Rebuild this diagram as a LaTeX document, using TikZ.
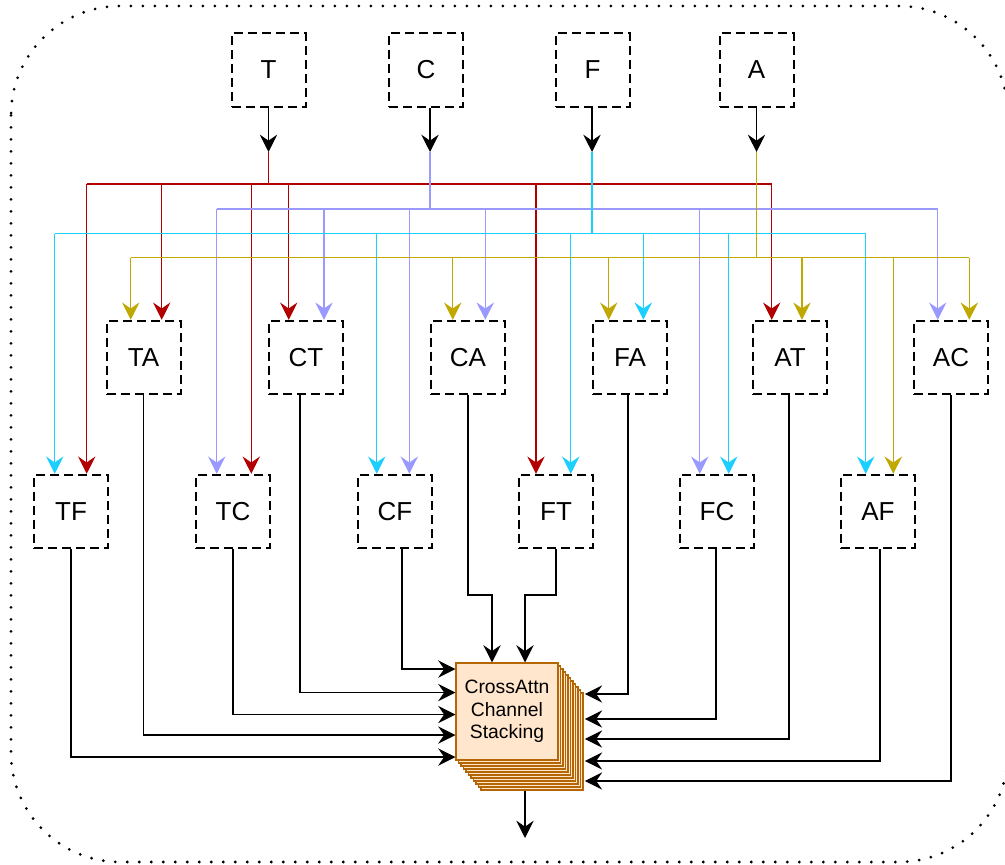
\documentclass[tikz,border=0pt]{standalone}
\usepackage{fontspec}
\setmainfont{Liberation Sans}
\usetikzlibrary{arrows.meta}
\definecolor{cred}{HTML}{B20000}
\definecolor{clav}{HTML}{9999FF}
\definecolor{ccyan}{HTML}{1BCFFF}
\definecolor{colive}{HTML}{C0A800}
\definecolor{sfill}{HTML}{FFE6CC}
\definecolor{sdraw}{HTML}{B46504}
\begin{document}
\begin{tikzpicture}[x=0.75pt,y=-0.75pt,
  dbox/.style={draw=black,line width=1.5pt,dash pattern=on 6.75pt off 3.75pt,minimum width=55.5pt,minimum height=55pt,inner sep=0pt,font=\fontsize{19.5}{22}\selectfont},
  tip/.style={-{Stealth[length=13pt,width=13pt,inset=4.5pt]}},
  wire/.style={line width=1pt},
  blk/.style={wire,black,tip},
  layer/.style={draw=sdraw,fill=sfill,line width=0.8pt,minimum width=76.5pt,minimum height=72.75pt,inner sep=0pt}
]
\useasboundingbox (0,0) rectangle (1005,864);
% outer dotted frame
\draw[line width=2.3pt,dash pattern=on 0pt off 9pt,line cap=round,rounded corners=82pt] (11,6) rectangle (1008,862);

% input nodes
\node[dbox] (T) at (268.5,70) {T};
\node[dbox] (C) at (426,70) {C};
\node[dbox] (F) at (592.5,70) {F};
\node[dbox] (A) at (756.5,70) {A};

% row 1
\node[dbox] (TA) at (143.5,357.5) {TA};
\node[dbox] (CT) at (306,357.5) {CT};
\node[dbox] (CA) at (468,357.5) {CA};
\node[dbox] (FA) at (630,357.5) {FA};
\node[dbox] (AT) at (790,357.5) {AT};
\node[dbox] (AC) at (951,357.5) {AC};
% row 2
\node[dbox] (TF) at (71,511.5) {TF};
\node[dbox] (TC) at (233,511.5) {TC};
\node[dbox] (CF) at (395,511.5) {CF};
\node[dbox] (FT) at (556,511.5) {FT};
\node[dbox] (FC) at (717,511.5) {FC};
\node[dbox] (AF) at (878,511.5) {AF};

% junction coordinates
\coordinate (jT) at (268.5,152);
\coordinate (jC) at (430,152);
\coordinate (jF) at (592,152);
\coordinate (jA) at (756.5,152);

\draw[blk] (T.south) -- (jT);
\draw[blk] (430,0 |- C.south) -- (jC);
\draw[blk] (592,0 |- F.south) -- (jF);
\draw[blk] (A.south) -- (jA);

% red bus (T)
\draw[wire,cred] (jT) -- (268.5,184);
\draw[wire,cred] (86.7,184) -- (771.7,184);
\foreach \x/\n in {86.7/TF,251.3/TC,536/FT,161.7/TA,288.7/CT,771.7/AT}
  \draw[wire,cred,tip] (\x,184) -- (\x,0 |- \n.north);

% lavender bus (C)
\draw[wire,clav] (jC) -- (430,209);
\draw[wire,clav] (216.7,209) -- (937.7,209);
\foreach \x/\n in {216.7/TC,324/CT,409.3/CF,485.3/CA,699.7/FC,937.7/AC}
  \draw[wire,clav,tip] (\x,209) -- (\x,0 |- \n.north);

% cyan bus (F)
\draw[wire,ccyan] (jF) -- (592,233.7);
\draw[wire,ccyan] (54.7,233.7) -- (865.7,233.7);
\foreach \x/\n in {54.7/TF,376.7/CF,570.7/FT,643.3/FA,728.7/FC,865.7/AF}
  \draw[wire,ccyan,tip] (\x,233.7) -- (\x,0 |- \n.north);

% olive bus (A)
\draw[wire,colive] (jA) -- (756.5,257.7);
\draw[wire,colive] (130.7,257.7) -- (969.3,257.7);
\foreach \x/\n in {130.7/TA,452.7/CA,608.7/FA,802/AT,893.3/AF,969.3/AC}
  \draw[wire,colive,tip] (\x,257.7) -- (\x,0 |- \n.north);

% stacked block
\node[layer] (Sb) at (532,741.5) {};
\foreach \i in {9,8,...,1}
  \node[layer] at (507+2.5*\i,711.5+3*\i) {};
\node[layer,align=center,font=\fontsize{14.5}{17}\selectfont] (S) at (507,711.5) {CrossAttn\\Channel\\Stacking};

% connections into block, top
\draw[blk] (CA.south) |- (492,595) -- (492,0 |- S.north);
\draw[blk] (FT.south) |- (525,595) -- (525,0 |- S.north);
% left side
\draw[blk] (402,0 |- CF.south) |- (S.west |- 0,669);
\draw[blk] (300,0 |- CT.south) |- (S.west |- 0,692.5);
\draw[blk] (TC.south) |- (S.west |- 0,714.5);
\draw[blk] (TA.south) |- (S.west |- 0,735);
\draw[blk] (TF.south) |- (S.west |- 0,757);
% right side
\draw[blk] (628,0 |- FA.south) |- ([xshift=1pt]Sb.east |- 0,694);
\draw[blk] (716,0 |- FC.south) |- ([xshift=1pt]Sb.east |- 0,719);
\draw[blk] (789,0 |- AT.south) |- ([xshift=1pt]Sb.east |- 0,739);
\draw[blk] (880,0 |- AF.south) |- ([xshift=1pt]Sb.east |- 0,761);
\draw[blk] (AC.south) |- ([xshift=1pt]Sb.east |- 0,781);
% output
\coordinate (out) at (525,838);
\draw[blk] (525,0 |- Sb.south) -- (out);
\end{tikzpicture}
\end{document}
